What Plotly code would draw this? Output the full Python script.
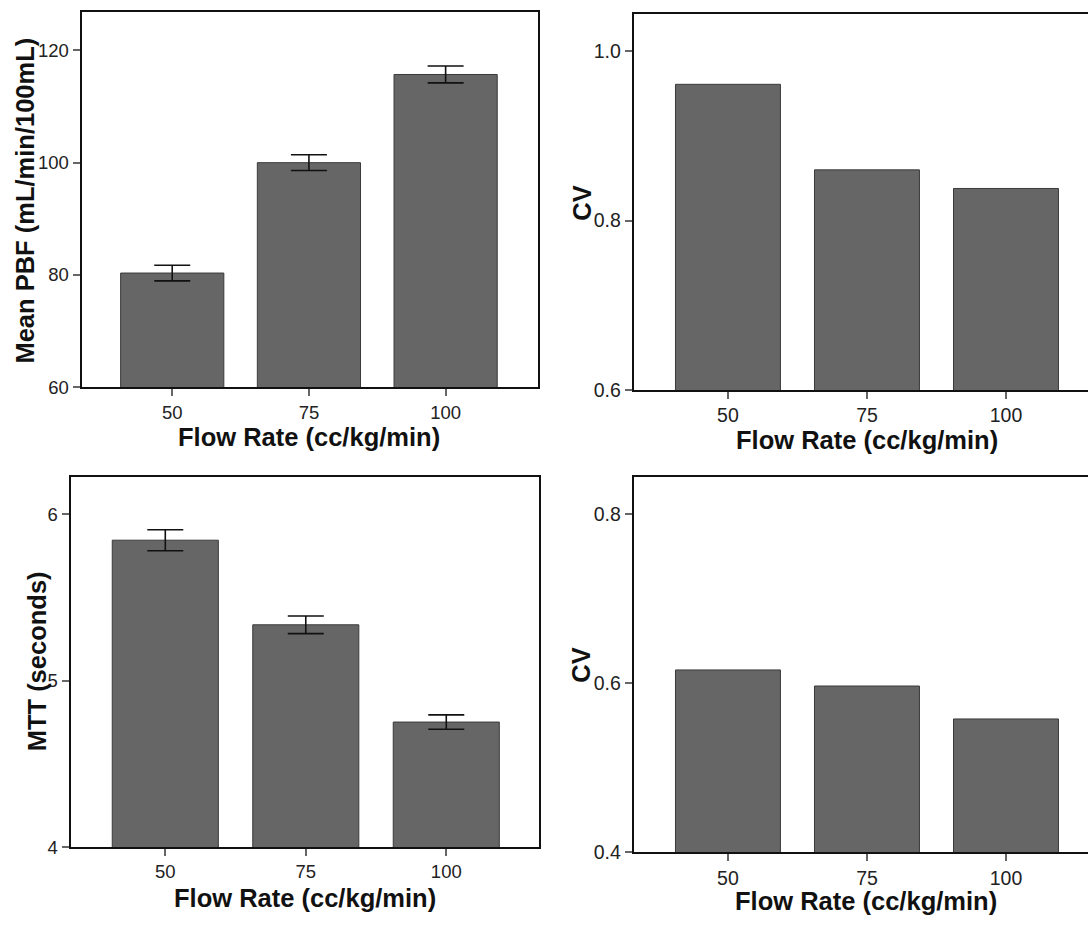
import plotly.graph_objects as go

flow_rates = ["50", "75", "100"]

pbf_mean = [80.35, 100.0, 115.7]
pbf_err = [1.4, 1.4, 1.5]

cv_pbf = [0.961, 0.860, 0.838]

mtt_mean = [5.843, 5.335, 4.751]
mtt_err = [0.063, 0.053, 0.043]

cv_mtt = [0.616, 0.597, 0.558]

FONT = "Liberation Sans, Arial, sans-serif"
BAR_COLOR = "#666666"
BAR_LINE = "#3a3a3a"

W, H = 1088, 926

fig = go.Figure()

panels = [
    (pbf_mean, pbf_err, "x", "y"),
    (cv_pbf, None, "x2", "y2"),
    (mtt_mean, mtt_err, "x3", "y3"),
    (cv_mtt, None, "x4", "y4"),
]

for vals, errs, xa, ya in panels:
    kw = {}
    if errs is not None:
        kw["error_y"] = dict(type="data", array=errs, visible=True,
                             color="#111111", thickness=1.6, width=18)
    fig.add_trace(go.Bar(
        x=flow_rates, y=vals, xaxis=xa, yaxis=ya,
        marker=dict(color=BAR_COLOR, line=dict(color=BAR_LINE, width=1)),
        width=0.755, showlegend=False, **kw))

def tickfont(size):
    return dict(family=FONT, size=size, color="#222222")

def xaxis(domain, rng, anchor, fs, mirror=True):
    return dict(domain=domain, anchor=anchor, type="category", range=rng,
                showline=True, linecolor="#111111", linewidth=2, mirror=mirror,
                ticks="outside", ticklen=7, tickwidth=1.5, tickcolor="#666666",
                showgrid=False, zeroline=False, tickfont=tickfont(fs))

def yaxis(domain, rng, anchor, tickvals, ticktext, fs, mirror=True):
    return dict(domain=domain, anchor=anchor, range=rng,
                showline=True, linecolor="#111111", linewidth=2, mirror=mirror,
                ticks="outside", ticklen=7, tickwidth=1.5, tickcolor="#666666",
                tickvals=tickvals, ticktext=ticktext,
                showgrid=False, zeroline=False, tickfont=tickfont(fs))

def px_x(v):
    return v / W

def px_y(v):
    return 1 - v / H

fig.update_layout(
    width=W, height=H,
    margin=dict(l=0, r=0, t=0, b=0),
    paper_bgcolor="white", plot_bgcolor="white",
    xaxis=xaxis([px_x(81.6), px_x(537.9)], [-0.663, 2.675], "y", 18.5),
    yaxis=yaxis([px_y(392), px_y(12.3)], [60, 126.8], "x",
                [60, 80, 100, 120], ["60", "80", "100", "120"], 18.5),
    xaxis2=xaxis([px_x(633.7), 1.0], [-0.678, 2.59], "y2", 19.5),
    yaxis2=yaxis([px_y(394.7), px_y(13.7)], [0.6, 1.0446], "x2",
                 [0.6, 0.8, 1.0], ["0.6", "0.8", "1.0"], 19.5, mirror=False),
    xaxis3=xaxis([px_x(70.6), px_x(539)], [-0.674, 2.66], "y3", 18.5),
    yaxis3=yaxis([px_y(857.3), px_y(482.3)], [4, 6.225], "x3",
                 [4, 5, 6], ["4", "5", "6"], 18.5),
    xaxis4=xaxis([px_x(633.7), 1.0], [-0.678, 2.59], "y4", 19.5),
    yaxis4=yaxis([px_y(862.7), px_y(482.7)], [0.4, 0.8444], "x4",
                 [0.4, 0.6, 0.8], ["0.4", "0.6", "0.8"], 19.5, mirror=False),
)

title_font = dict(family=FONT, size=25.5, color="#111111", weight="bold")

annotations = [
    dict(text="Flow Rate (cc/kg/min)", x=px_x(309), y=px_y(442), textangle=0),
    dict(text="Flow Rate (cc/kg/min)", x=px_x(866.8), y=px_y(445), textangle=0),
    dict(text="Flow Rate (cc/kg/min)", x=px_x(305.3), y=px_y(908.3), textangle=0),
    dict(text="Flow Rate (cc/kg/min)", x=px_x(866), y=px_y(911.7), textangle=0),
    dict(text="Mean PBF (mL/min/100mL)", x=px_x(25), y=px_y(203), textangle=-90),
    dict(text="CV", x=px_x(581.2), y=px_y(206), textangle=-90),
    dict(text="MTT (seconds)", x=px_x(36.8), y=px_y(669.5), textangle=-90),
    dict(text="CV", x=px_x(581.2), y=px_y(673.5), textangle=-90),
]
for a in annotations:
    fig.add_annotation(xref="paper", yref="paper", xanchor="center",
                       yanchor="middle", showarrow=False, font=title_font, **a)

fig.write_html(
    "out.html",
    config={"displayModeBar": False},
    post_script="document.body.style.margin='0';document.body.style.overflow='hidden';",
)
